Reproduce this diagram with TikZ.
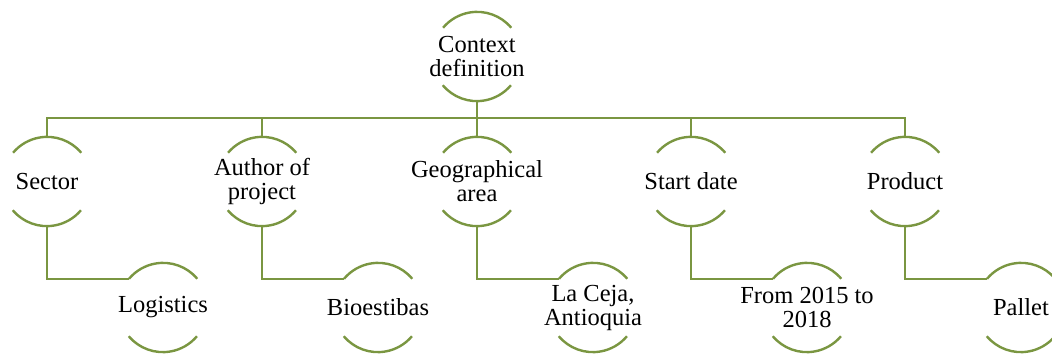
\documentclass[tikz,border=0pt]{standalone}
\usepackage{fontspec}
\setmainfont{Liberation Serif}
\usepackage{xcolor}
\usepackage{tikz}
\usetikzlibrary{positioning}

\definecolor{leaf}{RGB}{122,150,65}

\tikzset{
	ring/.style={circle, minimum size=89pt, inner sep=0pt},
	txt/.style={align=center, inner sep=0pt, font=\fontsize{24.5}{24}\selectfont},
	link/.style={draw=leaf, line width=2.4pt},
}

\begin{document}
\begin{tikzpicture}[x=1pt, y=1pt, line join=miter]
		\useasboundingbox (0,0) rectangle (1052,356);
		
		% root
		\node[ring] (ctx) at (477,299.5) {};
		\node[txt] (ctx-t) at (ctx) {Context\\definition};
		\coordinate (bus) at (0,238);
		
		% second row and the leaf under each of them
		\foreach \x/\n/\a/\b in {47/sector/Sector/Logistics,
			262/author/{Author of\\project}/Bioestibas,
			477/geo/{Geographical\\area}/{La Ceja,\\Antioquia},
			691/date/Start date/{From 2015 to\\2018},
			905/product/Product/Pallet}
		{
			\node[ring] (\n) at (\x,174.5) {};
			\node[txt] (\n-t) at (\n) {\a};
			\node[ring] (\n-c) at (\x+116,48.5) {};
			\node[txt] (\n-ct) at (\n-c) {\b};
			\draw[link] (\n.south) |- (\n-c.140);
		}
		
		% arcs above and below every text
		\foreach \n in {ctx,sector,author,geo,date,product,sector-c,author-c,geo-c,date-c,product-c}
		{
			\draw[link] (\n.40) arc[start angle=40, end angle=140, radius=44.5pt];
			\draw[link] (\n.220) arc[start angle=220, end angle=320, radius=44.5pt];
		}
		
		% tree lines
		\draw[link] (ctx.south) -- (geo.north);
		\draw[link] (sector.north) -- (sector.north |- bus) -- (product.north |- bus) -- (product.north);
		\foreach \n in {author,date}
			\draw[link] (\n.north) -- (\n.north |- bus);
	\end{tikzpicture}
\end{document}
